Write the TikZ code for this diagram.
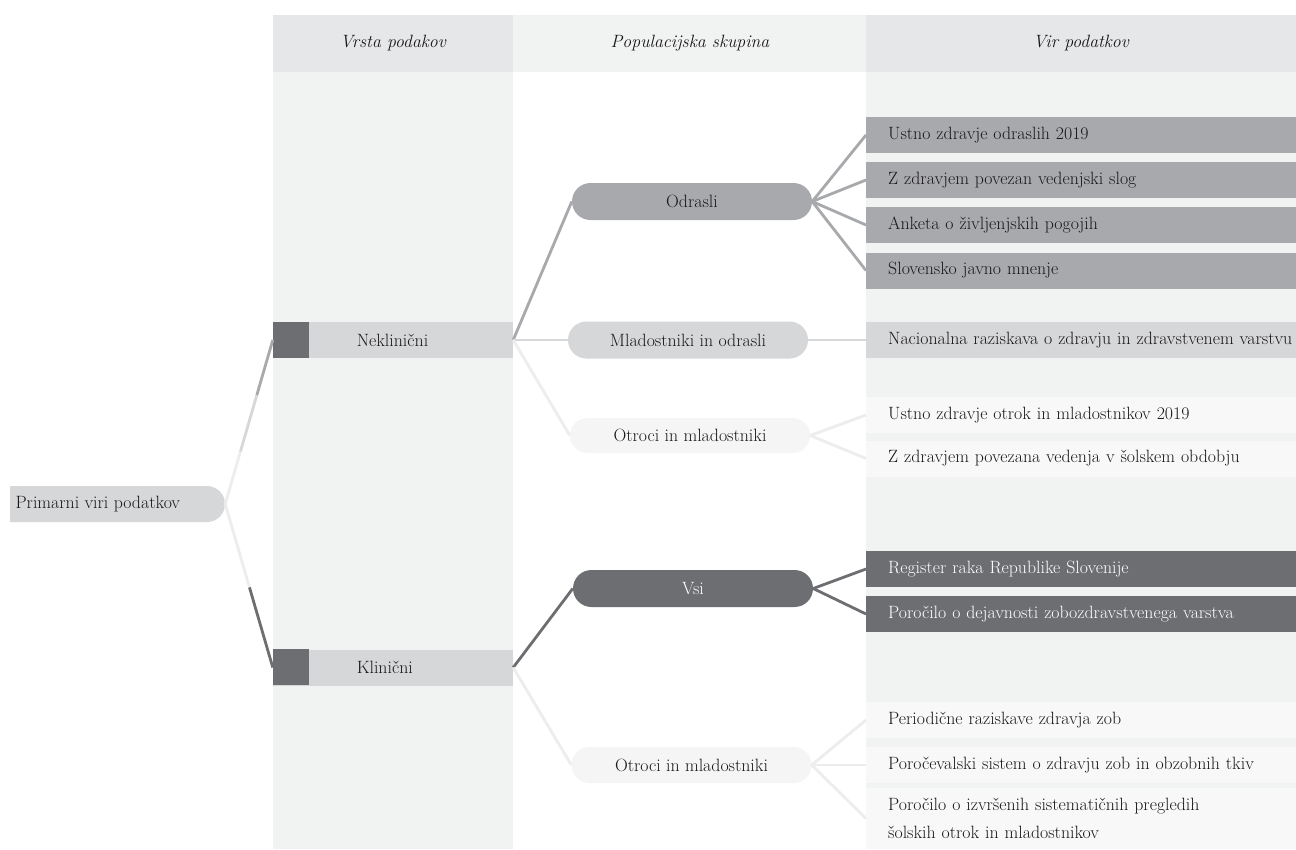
\documentclass[tikz,border=0pt]{standalone}
\usepackage{fontspec}
\usetikzlibrary{shapes.misc,calc}
\definecolor{cdark}{HTML}{6D6E71}
\definecolor{cmed}{HTML}{A7A9AC}
\definecolor{clight}{HTML}{D6D7D9}
\definecolor{cfaint}{HTML}{F5F5F5}
\definecolor{cfaintline}{HTML}{EDEDED}
\definecolor{cbg}{HTML}{F1F2F2}
\definecolor{chead}{HTML}{E6E7E8}
\definecolor{ctext}{HTML}{1A1718}
\definecolor{citem}{HTML}{F8F8F8}
\begin{document}
\begin{tikzpicture}[x=1pt,y=-1pt,
  every node/.style={font=\fontsize{17.8}{28}\selectfont, text=ctext},
  hdr/.style={font=\fontsize{17.8}{20}\selectfont\itshape},
  pill/.style={rounded rectangle, minimum width=240pt, minimum height=37pt, inner sep=0pt},
  rootbox/.style={rounded rectangle, rounded rectangle west arc=none, fill=clight, minimum width=215pt, minimum height=36pt, inner sep=0pt},
  typebox/.style={rectangle, fill=clight, minimum width=240pt, minimum height=36pt, inner sep=0pt},
  item/.style={rectangle, anchor=west, minimum height=36pt, text width=420pt, inner xsep=22pt, inner ysep=0pt, align=left},
  conn/.style={line width=2.8pt}
]
\path[use as bounding box] (0,0) rectangle (1296,849);
\clip (0,0) rectangle (1296,849);
% columns
\fill[white] (0,0) rectangle (1296,849);
\fill[chead] (273,15) rectangle (513,72);
\fill[cbg] (513,15) rectangle (866,72);
\fill[chead] (866,15) rectangle (1296,72);
\fill[cbg] (273,72) rectangle (513,849);
\fill[cbg] (866,72) rectangle (1296,849);
% headers
\node[hdr] (h1) at (393,43) {Vrsta podakov};
\node[hdr] (h2) at (690,43) {Populacijska skupina};
\node[hdr] (h3) at (1081,43) {Vir podatkov};
% root
\node[rootbox] (root) at (117.5,504) {};
\node[anchor=west] (roottext) at (12,504) {Primarni viri podatkov};
% type boxes
\node[typebox] (nek) at (393,340) {};
\fill[cdark] (nek.north west) rectangle ++(36,36);
\node (nekt) at (392.5,340) {Neklinični};
\node[typebox] (kli) at (393,667.5) {};
\fill[cdark] (kli.north west) rectangle ++(36,36);
\node[anchor=west] (klit) at (nekt.west |- kli) {Klinični};
% root connectors
\draw[conn, cfaintline] (root.east) -- ($(root.east)!0.32!(nek.west)$) coordinate (a1);
\draw[conn, clight] (a1) -- ($(root.east)!0.665!(nek.west)$) coordinate (a2);
\draw[conn, cmed] (a2) -- (nek.west);
\draw[conn, cfaintline] (root.east) -- ($(root.east)!0.51!(kli.west)$) coordinate (b1);
\draw[conn, cdark] (b1) -- (kli.west);
% population nodes
\node[pill, fill=cmed] (odr) at (692,201.5) {Odrasli};
\node[pill, fill=clight] (mla) at (688,340) {Mladostniki in odrasli};
\node[pill, fill=cfaint, minimum height=35pt] (otr1) at (690,435.5) {Otroci in mladostniki};
\node[pill, fill=cdark, text=white] (vsi) at (693,588.5) {Vsi};
\node[pill, fill=cfaint, minimum height=36pt] (otr2) at (691.5,765) {Otroci in mladostniki};
\draw[conn, cmed] (nek.east) -- (odr.west);
\draw[conn, clight] (nek.east) -- (mla.west);
\draw[conn, cfaintline] (nek.east) -- (otr1.west);
\draw[conn, cdark] (kli.east) -- (vsi.west);
\draw[conn, cfaintline] (kli.east) -- (otr2.west);
% source items
\node[item, fill=cmed] (i1) at (866,135) {Ustno zdravje odraslih 2019};
\node[item, fill=cmed] (i2) at (866,180) {Z zdravjem povezan vedenjski slog};
\node[item, fill=cmed] (i3) at (866,225) {Anketa o življenjskih pogojih};
\node[item, fill=cmed] (i4) at (866,270.5) {Slovensko javno mnenje};
\node[item, fill=clight] (i5) at (866,340) {Nacionalna raziskava o zdravju in zdravstvenem varstvu};
\node[item, fill=citem] (i6) at (866,415) {Ustno zdravje otrok in mladostnikov 2019};
\node[item, fill=citem] (i7) at (866,458.5) {Z zdravjem povezana vedenja v šolskem obdobju};
\node[item, fill=cdark, text=white] (i8) at (866,569) {Register raka Republike Slovenije};
\node[item, fill=cdark, text=white] (i9) at (866,614) {Poročilo o dejavnosti zobozdravstvenega varstva};
\node[item, fill=citem] (i10) at (866,720) {Periodične raziskave zdravja zob};
\node[item, fill=citem] (i11) at (866,765) {Poročevalski sistem o zdravju zob in obzobnih tkiv};
\node[item, fill=citem, minimum height=61pt] (i12) at (866,818.5) {Poročilo o izvršenih sistematičnih pregledih\\šolskih otrok in mladostnikov};
\draw[conn, cmed] (odr.east) -- (i1.west);
\draw[conn, cmed] (odr.east) -- (i2.west);
\draw[conn, cmed] (odr.east) -- (i3.west);
\draw[conn, cmed] (odr.east) -- (i4.west);
\draw[conn, clight] (mla.east) -- (i5.west);
\draw[conn, cfaintline] (otr1.east) -- (i6.west);
\draw[conn, cfaintline] (otr1.east) -- (i7.west);
\draw[conn, cdark] (vsi.east) -- (i8.west);
\draw[conn, cdark] (vsi.east) -- (i9.west);
\draw[conn, cfaintline] (otr2.east) -- (i10.west);
\draw[conn, cfaintline] (otr2.east) -- (i11.west);
\draw[conn, cfaintline] (otr2.east) -- (i12.west);
\end{tikzpicture}
\end{document}
